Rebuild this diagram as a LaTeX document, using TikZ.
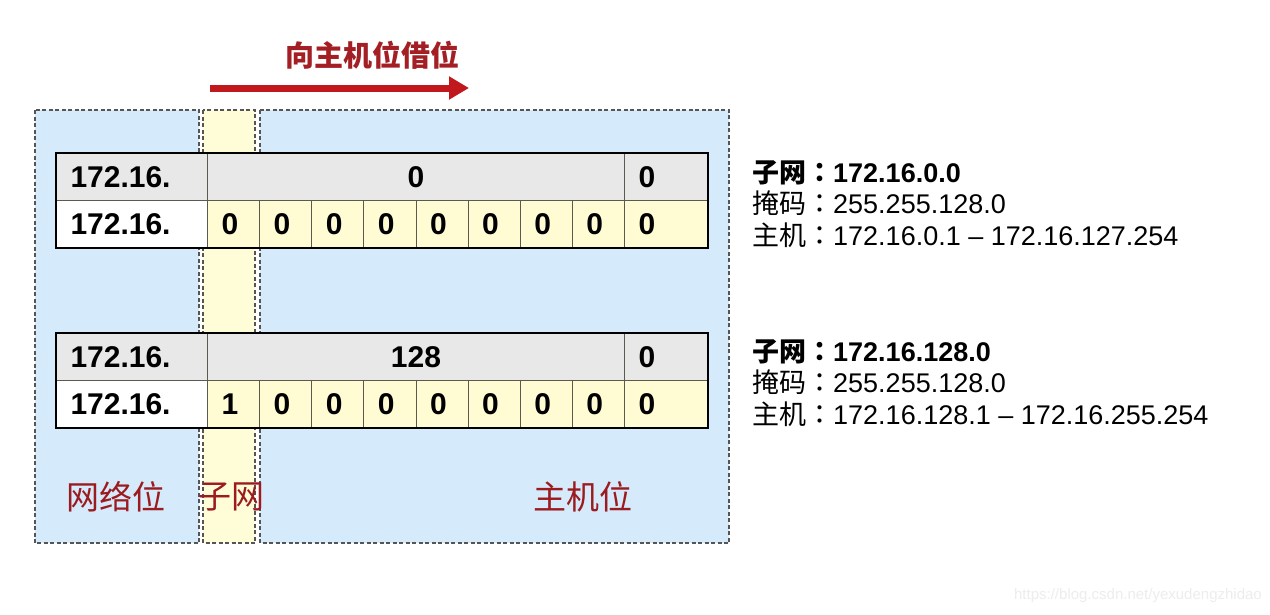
\documentclass[tikz,border=0pt]{standalone}
\usepackage{fontspec}
\setmainfont{Liberation Sans}
\newfontfamily\cjk{Noto Sans CJK SC}
\newfontfamily\cjkcolon{Noto Sans CJK JP}
\usetikzlibrary{arrows.meta}
\definecolor{bluebg}{HTML}{D5EAFA}
\definecolor{yellowbg}{HTML}{FFFDD8}
\definecolor{graycell}{HTML}{E8E8E8}
\definecolor{yellowcell}{HTML}{FFFCD4}
\definecolor{arrowred}{HTML}{C0181C}
\definecolor{titlered}{HTML}{A31F24}
\definecolor{labelred}{HTML}{9B1B1F}
\definecolor{dashgray}{HTML}{555555}
\definecolor{linegray}{HTML}{5A5A50}
\newcommand{\fwcolon}{{\cjkcolon ：}}
\tikzset{
  region/.style={draw=dashgray, line width=1.2pt, dash pattern=on 4pt off 2.5pt},
  cell/.style={rectangle, draw=linegray, line width=1pt, anchor=north west,
    minimum height=47pt, inner xsep=14pt, inner ysep=0pt, text height=21pt, text depth=0pt,
    font=\bfseries\fontsize{30}{30}\selectfont, align=left},
  namecell/.style={cell, text width=123pt},
  bitcell/.style={cell, fill=yellowcell, text width=24.125pt},
  lastcell/.style={cell, text width=55pt},
  mergecell/.style={cell, fill=graycell, text width=389pt, align=center},
  tableframe/.style={draw=black, line width=2.5pt},
  info/.style={anchor=base west, inner sep=0pt, font=\fontsize{27}{27}\selectfont},
  bottomlabel/.style={text=labelred, inner sep=0pt, font=\cjk\fontsize{33}{33}\selectfont},
}
\begin{document}
\begin{tikzpicture}[x=1pt,y=-1pt]
\useasboundingbox (0,0) rectangle (1270,614);
\fill[white] (0,0) rectangle (1270,614);

% background regions
\filldraw[region, fill=bluebg] (35,110) rectangle (199,543);
\filldraw[region, fill=yellowbg] (203,110) rectangle (255,543);
\filldraw[region, fill=bluebg] (260,110) rectangle (729,543);

% title arrow
\node[text=titlered, inner sep=0pt, font=\cjk\bfseries\fontsize{29}{29}\selectfont] (title) at (372,55) {向主机位借位};
\coordinate (arrS) at (210,88);
\coordinate (arrE) at (469,88);
\draw[arrowred, line width=7pt, -{Triangle[length=20pt,width=22pt]}] (arrS) -- (arrE);

% table 1
\node[namecell, fill=graycell] (tAn1) at (56,153) {172.16.};
\node[mergecell] (tAm) at (207,153) {0};
\node[lastcell, fill=graycell] (tAz1) at (624,153) {0};
\node[namecell, fill=white] (tAn2) at (56,200) {172.16.};
\foreach \i in {0,...,7} {
  \node[bitcell] (tAc\i) at ({207+\i*52.125},200) {0};
}
\node[lastcell, fill=yellowcell] (tAz2) at (624,200) {0};
\draw[tableframe] (tAn1.north west) rectangle (tAz2.south east);

% table 2
\node[namecell, fill=graycell] (tBn1) at (56,333) {172.16.};
\node[mergecell] (tBm) at (207,333) {128};
\node[lastcell, fill=graycell] (tBz1) at (624,333) {0};
\node[namecell, fill=white] (tBn2) at (56,380) {172.16.};
\foreach \i/\v in {0/1,1/0,2/0,3/0,4/0,5/0,6/0,7/0} {
  \node[bitcell] (tBc\i) at ({207+\i*52.125},380) {\v};
}
\node[lastcell, fill=yellowcell] (tBz2) at (624,380) {0};
\draw[tableframe] (tBn1.north west) rectangle (tBz2.south east);

% info text
\node[info] (iA1) at (752,182) {{\cjk\bfseries 子网}{\bfseries\fwcolon}\textbf{172.16.0.0}};
\node[info] (iA2) at (752,213) {{\cjk 掩码}\fwcolon 255.255.128.0};
\node[info] (iA3) at (752,245) {{\cjk 主机}\fwcolon 172.16.0.1 – 172.16.127.254};
\node[info] (iB1) at (752,361) {{\cjk\bfseries 子网}{\bfseries\fwcolon}\textbf{172.16.128.0}};
\node[info] (iB2) at (752,392) {{\cjk 掩码}\fwcolon 255.255.128.0};
\node[info] (iB3) at (752,424) {{\cjk 主机}\fwcolon 172.16.128.1 – 172.16.255.254};

% bottom labels
\node[bottomlabel] (lNet) at (116,497) {网络位};
\node[bottomlabel] (lSub) at (231,497) {子网};
\node[bottomlabel] (lHost) at (583,497) {主机位};

% watermark
\node[anchor=east, inner sep=0pt, text=black!7, font=\fontsize{15}{15}\selectfont] (wm) at (1262,596) {https://blog.csdn.net/yexudengzhidao};
\end{tikzpicture}
\end{document}
